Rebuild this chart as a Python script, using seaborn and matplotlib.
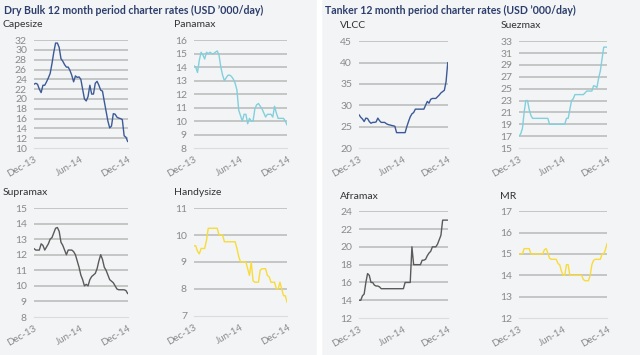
import matplotlib.dates as mdates
import matplotlib.pyplot as plt
import numpy as np
import pandas as pd
import seaborn as sns

# * --- Data: weekly 12 month period charter rates, USD '000/day ---
weeks = pd.date_range("2013-12-01", periods=53, freq="7D")

capesize = [23.0, 23.2, 23.0, 22.0, 21.3, 22.8, 22.8, 23.5, 24.3, 25.2, 27.2, 29.5, 31.4, 31.4,
            30.5, 28.2, 27.7, 27.0, 26.5, 26.5, 25.8, 24.8, 23.5, 24.7, 24.4, 24.5, 24.0, 22.0,
            20.0, 19.6, 20.5, 22.8, 21.0, 21.0, 23.2, 23.6, 22.8, 21.8, 21.6, 19.5, 17.5, 15.5,
            14.1, 14.5, 17.0, 16.9, 16.3, 16.1, 16.0, 15.8, 12.5, 12.2, 11.3]
panamax = [14.1, 14.0, 13.6, 14.5, 15.1, 14.9, 14.6, 15.1, 15.0, 15.1, 15.0, 15.0, 15.1, 15.2,
           14.9, 14.0, 13.4, 13.0, 13.2, 13.4, 13.4, 13.3, 13.1, 12.8, 12.3, 10.8, 10.4, 10.0,
           10.5, 10.5, 9.8, 10.2, 10.0, 10.0, 10.9, 11.2, 11.3, 11.1, 10.9, 10.6, 10.3, 10.5,
           10.5, 10.5, 10.3, 11.1, 10.6, 10.2, 10.2, 10.2, 10.2, 10.0, 9.7]
supramax = [12.4, 12.3, 12.3, 12.3, 12.7, 12.6, 12.3, 12.5, 12.7, 13.0, 13.1, 13.4, 13.7, 13.75,
            13.5, 12.8, 12.6, 12.3, 12.0, 12.3, 12.3, 12.3, 12.2, 12.0, 11.6, 11.2, 10.7, 10.4,
            10.0, 10.1, 10.0, 10.4, 10.6, 10.7, 10.8, 11.1, 11.6, 12.0, 11.7, 11.2, 11.0, 10.7,
            10.4, 10.3, 10.2, 10.0, 9.8, 9.75, 9.75, 9.75, 9.75, 9.7, 9.5]
handysize = [9.6, 9.6, 9.4, 9.3, 9.5, 9.5, 9.5, 9.8, 10.25, 10.25, 10.25, 10.25, 10.25, 10.25,
             10.0, 10.0, 10.0, 9.75, 9.75, 9.75, 9.75, 9.75, 9.75, 9.75, 9.5, 9.2, 9.0, 9.0,
             9.0, 9.0, 8.75, 8.5, 9.0, 8.3, 8.25, 8.25, 8.25, 8.7, 8.75, 8.75, 8.75, 8.5,
             8.45, 8.25, 8.25, 8.25, 8.0, 8.0, 8.25, 8.0, 7.75, 7.75, 7.5]
vlcc = [27.8, 27.2, 26.8, 26.2, 27.0, 26.9, 26.2, 25.8, 26.0, 26.0, 26.1, 27.0, 26.4, 26.0,
        26.0, 26.0, 25.7, 25.5, 25.4, 25.3, 25.2, 25.1, 23.6, 23.6, 23.6, 23.6, 23.6, 23.6,
        25.0, 26.2, 27.3, 28.0, 28.3, 29.1, 29.1, 29.1, 29.1, 29.1, 29.1, 30.0, 30.9, 30.5,
        31.4, 31.6, 31.6, 31.6, 32.0, 32.4, 32.9, 33.2, 33.5, 35.5, 40.0]
suezmax = [17.0, 17.4, 18.3, 21.0, 23.0, 23.0, 21.5, 20.5, 20.0, 20.0, 20.0, 20.0, 20.0, 20.0,
           20.0, 20.0, 20.0, 20.0, 19.0, 19.0, 19.0, 19.0, 19.0, 19.0, 19.0, 19.0, 19.0, 19.0,
           20.0, 20.0, 21.5, 23.0, 23.3, 24.0, 24.0, 24.0, 24.0, 24.0, 24.0, 24.3, 24.6, 24.6,
           24.6, 24.6, 25.5, 25.4, 25.2, 26.8, 28.0, 30.0, 32.0, 32.0, 32.0]
aframax = [14.0, 14.0, 14.5, 14.7, 16.0, 17.0, 16.8, 16.0, 16.0, 15.7, 15.6, 15.6, 15.5, 15.3,
           15.3, 15.3, 15.3, 15.3, 15.3, 15.3, 15.3, 15.3, 15.3, 15.3, 15.3, 15.3, 15.3, 16.0,
           16.0, 16.0, 16.0, 20.0, 18.0, 18.0, 18.0, 18.0, 18.0, 18.5, 18.5, 18.6, 19.0, 19.3,
           19.5, 20.0, 20.0, 20.0, 20.3, 20.8, 21.3, 23.0, 23.0, 23.0, 23.0]
mr = [15.0, 15.0, 15.0, 15.25, 15.25, 15.25, 15.25, 15.0, 15.0, 15.0, 15.0, 15.0, 15.0, 15.0,
      15.0, 15.2, 15.25, 15.05, 14.8, 14.75, 14.75, 14.75, 14.75, 14.55, 14.5, 14.2, 14.0, 14.0,
      14.5, 14.5, 14.0, 14.0, 14.0, 14.0, 14.0, 14.0, 14.0, 14.0, 13.8, 13.75, 13.75, 13.75,
      14.0, 14.5, 14.7, 14.75, 14.75, 14.75, 14.75, 15.0, 15.0, 15.2, 15.5]

x_ticks = pd.to_datetime(["2013-12-01", "2014-06-01", "2014-12-01"])

# * --- Styling ---
sns.set_theme(style="white")
plt.rcParams["font.family"] = ["Lato", "DejaVu Sans"]

BG = "#f3f4f6"
NAVY = "#3b5a98"
CYAN = "#82d0dc"
DARK = "#5a5a5a"
YELLOW = "#f7dc3a"
GRID = "#b8b8b8"
TICK = "#8a8a8a"

# (title, values, colour, y ticks, axes rect in figure fraction)
panels = [
    ("Capesize", capesize, NAVY, np.arange(10, 33, 2), [0.053, 0.583, 0.147, 0.304]),
    ("Panamax", panamax, CYAN, np.arange(8, 17, 1), [0.303, 0.583, 0.146, 0.304]),
    ("Supramax", supramax, DARK, np.arange(8, 16, 1), [0.053, 0.107, 0.147, 0.307]),
    ("Handysize", handysize, YELLOW, np.arange(7, 12, 1), [0.303, 0.110, 0.146, 0.304]),
    ("VLCC", vlcc, NAVY, np.arange(20, 46, 5), [0.561, 0.583, 0.139, 0.301]),
    ("Suezmax", suezmax, CYAN, np.arange(15, 34, 2), [0.811, 0.583, 0.138, 0.301]),
    ("Aframax", aframax, DARK, np.arange(12, 25, 2), [0.561, 0.104, 0.139, 0.301]),
    ("MR", mr, YELLOW, np.arange(12, 18, 1), [0.811, 0.104, 0.138, 0.301]),
]

fig = plt.figure(figsize=(6.4, 3.55), dpi=100)
fig.patch.set_facecolor(BG)

# white band between dry bulk and tanker halves
fig.patches.append(plt.Rectangle((0.496, 0), 0.006, 1, transform=fig.transFigure,
                                 color="white", zorder=0))

fig.text(0.006, 0.985, "Dry Bulk 12 month period charter rates (USD \u2019000/day)",
         fontsize=7.6, fontweight="bold", color="#2c3e6b", va="top")
fig.text(0.508, 0.985, "Tanker 12 month period charter rates (USD \u2019000/day)",
         fontsize=7.6, fontweight="bold", color="#2c3e6b", va="top")

for title, values, color, yticks, rect in panels:
    ax = fig.add_axes(rect)
    ax.set_facecolor(BG)
    df = pd.DataFrame({"week": weeks, "rate": values})
    sns.lineplot(data=df, x="week", y="rate", color=color, linewidth=1.0, ax=ax)

    ax.set_xlim(x_ticks[0], x_ticks[-1])
    ax.set_ylim(yticks[0], yticks[-1])
    ax.set_yticks(yticks)
    ax.set_xticks(x_ticks)
    ax.xaxis.set_major_formatter(mdates.DateFormatter("%b-%y"))
    ax.set_xlabel("")
    ax.set_ylabel("")

    ax.grid(axis="y", color=GRID, linewidth=1.1)
    ax.yaxis.get_gridlines()[0].set_visible(False)
    for side in ["top", "right", "left"]:
        ax.spines[side].set_visible(False)
    ax.spines["bottom"].set_color("#dcdcdc")
    ax.spines["bottom"].set_linewidth(0.8)

    ax.tick_params(axis="y", length=0, pad=5, labelsize=7.5, labelcolor=TICK)
    ax.tick_params(axis="x", length=3, color="#dcdcdc", pad=2, labelsize=7, labelcolor=TICK)
    for lbl in ax.get_xticklabels():
        lbl.set_rotation(30)
        lbl.set_ha("right")
        lbl.set_rotation_mode("anchor")

    # panel title sits above the y tick labels, left aligned
    ax.text(-0.33 if rect[0] < 0.1 else -0.21, 1.1, title, transform=ax.transAxes,
            fontsize=7.5, color="#333333", ha="left", va="bottom")

plt.savefig("out.png", dpi=100, facecolor=BG)
